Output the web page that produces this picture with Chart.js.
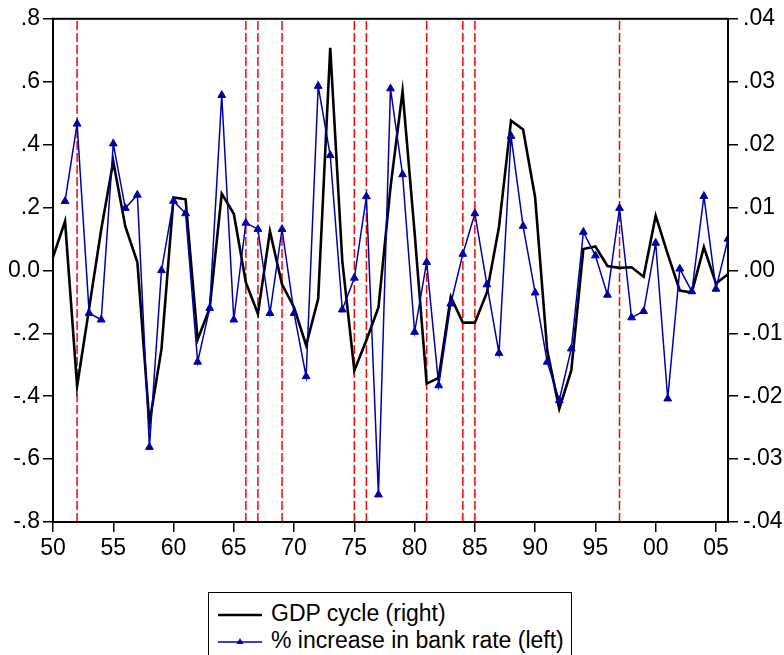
<!DOCTYPE html>
<html>
<head>
<meta charset="utf-8">
<script src="https://cdn.jsdelivr.net/npm/chart.js@4.4.1/dist/chart.umd.min.js"></script>
<style>
    body { margin: 0; background: #fff; }
    #wrap { position: relative; width: 784px; height: 655px; overflow: hidden; }
    #legend {
        position: absolute; left: 208px; top: 592px; width: 362px; height: 90px;
        border: 1.5px solid #000; background: #fff;
        font-family: "Liberation Sans", Arial, sans-serif; font-size: 23px; color: #000;
    }
    #legend .row { position: absolute; left: 9px; height: 27px; display: flex; align-items: center; }
    #legend svg { margin-right: 9px; }
</style>
</head>
<body>
<div id="wrap">
    <canvas id="chart" width="784" height="655"></canvas>
    <div id="legend"></div>
</div>
<script>
const years = [1950, 1951, 1952, 1953, 1954, 1955, 1956, 1957, 1958, 1959,
    1960, 1961, 1962, 1963, 1964, 1965, 1966, 1967, 1968, 1969,
    1970, 1971, 1972, 1973, 1974, 1975, 1976, 1977, 1978, 1979,
    1980, 1981, 1982, 1983, 1984, 1985, 1986, 1987, 1988, 1989,
    1990, 1991, 1992, 1993, 1994, 1995, 1996, 1997, 1998, 1999,
    2000, 2001, 2002, 2003, 2004, 2005, 2006];

// GDP cycle, right axis
const gdpCycle = [0.0021, 0.0078, -0.0184, -0.0060, 0.0065, 0.0173, 0.0070, 0.0013, -0.0243, -0.0125,
    0.0116, 0.0113, -0.0110, -0.0060, 0.0122, 0.0090, -0.0019, -0.0069, 0.0062, -0.0022,
    -0.0059, -0.0119, -0.0045, 0.0354, 0.0015, -0.0159, -0.0111, -0.0059, 0.0132, 0.0285,
    0.0060, -0.0180, -0.0171, -0.0042, -0.0083, -0.0083, -0.0035, 0.0069, 0.0238, 0.0224,
    0.0116, -0.0127, -0.0220, -0.0159, 0.0034, 0.0038, 0.0007, 0.0004, 0.0005, -0.0010,
    0.0087, 0.0026, -0.0032, -0.0035, 0.0037, -0.0021, -0.0006];

// % increase in bank rate, left axis (no value for 1950)
const bankRate = [null, 0.220, 0.466, -0.136, -0.157, 0.403, 0.198, 0.240, -0.562, 0.000,
    0.221, 0.181, -0.291, -0.120, 0.557, -0.157, 0.151, 0.131, -0.136, 0.131,
    -0.136, -0.337, 0.586, 0.366, -0.125, -0.024, 0.235, -0.713, 0.578, 0.305,
    -0.196, 0.026, -0.366, -0.106, 0.052, 0.181, -0.045, -0.263, 0.427, 0.141,
    -0.071, -0.291, -0.413, -0.249, 0.122, 0.047, -0.078, 0.198, -0.150, -0.130,
    0.087, -0.408, 0.005, -0.067, 0.236, -0.059, 0.100];

const markedYears = [1952, 1966, 1967, 1969, 1975, 1976, 1981, 1984, 1985, 1997];

const xTicks = [1950, 1955, 1960, 1965, 1970, 1975, 1980, 1985, 1990, 1995, 2000, 2005];
const xTickLabels = ['50', '55', '60', '65', '70', '75', '80', '85', '90', '95', '00', '05'];
const leftTicks = [-0.8, -0.6, -0.4, -0.2, 0, 0.2, 0.4, 0.6, 0.8];
const leftTickLabels = ['-.8', '-.6', '-.4', '-.2', '0.0', '.2', '.4', '.6', '.8'];
const rightTicks = [-0.04, -0.03, -0.02, -0.01, 0, 0.01, 0.02, 0.03, 0.04];
const rightTickLabels = ['-.04', '-.03', '-.02', '-.01', '.00', '.01', '.02', '.03', '.04'];

const BLUE = '#0000a8';
const FONT = { family: '"Liberation Sans", Arial, sans-serif', size: 23 };

const toPoints = values => years.map((yr, i) => ({ x: yr, y: values[i] }));

const datasets = [
    {
        label: '% increase in bank rate (left)',
        data: toPoints(bankRate),
        yAxisID: 'yL',
        borderColor: BLUE,
        backgroundColor: BLUE,
        borderWidth: 1.5,
        pointStyle: 'triangle',
        pointRadius: 4.5,
        pointBorderWidth: 1,
        tension: 0,
        order: 0
    },
    {
        label: 'GDP cycle (right)',
        data: toPoints(gdpCycle),
        yAxisID: 'yR',
        borderColor: '#000',
        borderWidth: 2.6,
        pointRadius: 0,
        tension: 0,
        order: 1
    }
];

markedYears.forEach(yr => {
    datasets.push({
        label: 'marker ' + yr,
        data: [{ x: yr, y: leftTicks[0] }, { x: yr, y: leftTicks[leftTicks.length - 1] }],
        yAxisID: 'yL',
        borderColor: '#ff0000',
        borderWidth: 1.5,
        borderDash: [9, 3],
        pointRadius: 0,
        order: 2
    });
});

const setTicks = values => scale => { scale.ticks = values.map(v => ({ value: v })); };
const labelFrom = (values, labels) => v => {
    const i = values.findIndex(t => Math.abs(t - v) < 1e-9);
    return i >= 0 ? labels[i] : '';
};

const axisGrid = { drawOnChartArea: false, drawTicks: true, tickLength: 10, color: '#000', lineWidth: 1.5 };

// top edge of the plot frame
const frame = {
    id: 'frame',
    afterDraw(chart) {
        const { ctx, chartArea } = chart;
        ctx.save();
        ctx.strokeStyle = '#000';
        ctx.lineWidth = 2;
        ctx.strokeRect(chartArea.left, chartArea.top, chartArea.right - chartArea.left, chartArea.bottom - chartArea.top);
        ctx.restore();
    }
};

const chart = new Chart(document.getElementById('chart').getContext('2d'), {
    type: 'line',
    data: { datasets },
    options: {
        responsive: false,
        animation: false,
        layout: { padding: { top: 17, bottom: 83, left: 0, right: 0 } },
        plugins: { legend: { display: false }, tooltip: { enabled: false } },
        scales: {
            x: {
                type: 'linear',
                min: 1950,
                max: 2006,
                afterBuildTicks: setTicks(xTicks),
                afterFit: s => { s.height = 50; },
                grid: axisGrid,
                border: { color: '#000', width: 2 },
                ticks: { color: '#000', font: FONT, padding: 3, maxRotation: 0, autoSkip: false,
                    callback: labelFrom(xTicks, xTickLabels) }
            },
            yL: {
                position: 'left',
                min: -0.8,
                max: 0.8,
                afterBuildTicks: setTicks(leftTicks),
                afterFit: s => { s.width = 53; },
                grid: axisGrid,
                border: { color: '#000', width: 2 },
                ticks: { color: '#000', font: FONT, padding: 3, callback: labelFrom(leftTicks, leftTickLabels) }
            },
            yR: {
                position: 'right',
                min: -0.04,
                max: 0.04,
                afterBuildTicks: setTicks(rightTicks),
                afterFit: s => { s.width = 56; },
                grid: axisGrid,
                border: { color: '#000', width: 2 },
                ticks: { color: '#000', font: FONT, padding: 5, callback: labelFrom(rightTicks, rightTickLabels) }
            }
        }
    },
    plugins: [frame]
});

// boxed legend, one row per series
const legendEl = document.getElementById('legend');
[datasets[1], datasets[0]].forEach((ds, i) => {
    const row = document.createElement('div');
    row.className = 'row';
    row.style.top = (7 + i * 27) + 'px';
    const marker = ds.pointRadius ? '<polygon points="22,4 18.5,10 25.5,10" fill="' + ds.borderColor + '"/>' : '';
    row.innerHTML = '<svg width="44" height="14"><line x1="0" y1="8" x2="44" y2="8" stroke="' + ds.borderColor +
        '" stroke-width="' + ds.borderWidth + '"/>' + marker + '</svg><span>' + ds.label + '</span>';
    legendEl.appendChild(row);
});
</script>
</body>
</html>
